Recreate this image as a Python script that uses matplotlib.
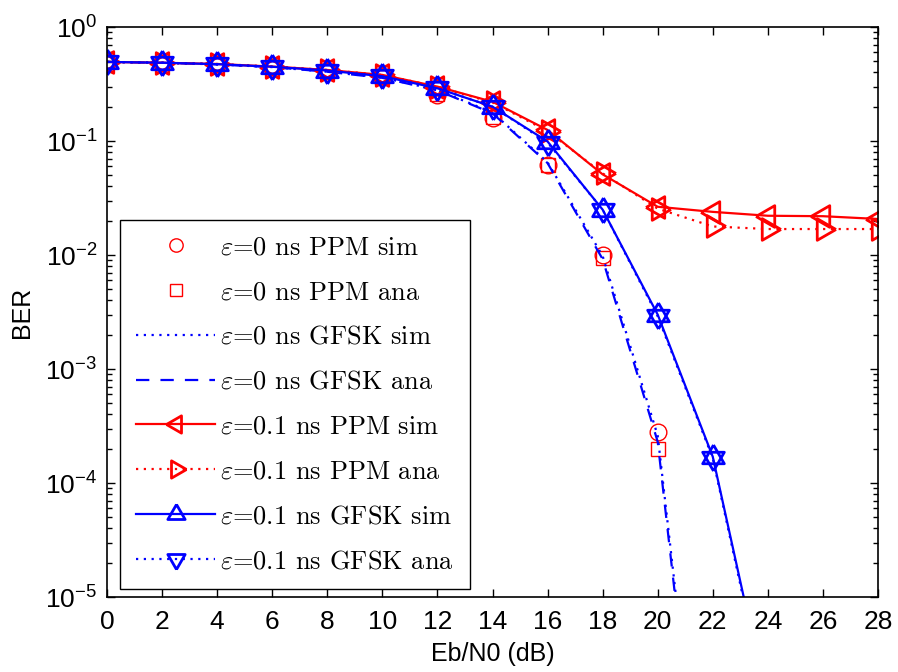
import matplotlib
matplotlib.use("Agg")
import matplotlib.pyplot as plt
from matplotlib.font_manager import FontProperties
import numpy as np

plt.rcParams['font.family'] = 'Liberation Sans'
plt.rcParams['mathtext.fontset'] = 'custom'
plt.rcParams['mathtext.rm'] = 'Liberation Sans'
plt.rcParams['mathtext.it'] = 'Liberation Sans:italic'
plt.rcParams['mathtext.bf'] = 'Liberation Sans:bold'

# Eb/N0 (dB)
snr = [0, 2, 4, 6, 8, 10, 12, 14, 16, 18, 20, 22, 24, 26, 28]

# eps = 0 ns
ppm_sim_0 = [0.494, 0.486, 0.472, 0.448, 0.41, 0.365, 0.253, 0.158, 0.0616, 0.0100, 2.8e-4]
ppm_ana_0 = [0.494, 0.486, 0.472, 0.448, 0.41, 0.362, 0.26, 0.162, 0.062, 0.0095, 2.0e-4]
gfsk_sim_0 = [0.494, 0.485, 0.47, 0.445, 0.405, 0.36, 0.28, 0.178, 0.065, 0.0098, 2.6e-4, 1.5e-8]
gfsk_ana_0 = [0.494, 0.485, 0.47, 0.445, 0.405, 0.358, 0.278, 0.175, 0.064, 0.0092, 2.3e-4, 1.2e-8]

# eps = 0.1 ns
ppm_sim_1 = [0.494, 0.486, 0.474, 0.45, 0.42, 0.38, 0.30, 0.221, 0.125, 0.051, 0.0265, 0.0239, 0.0221, 0.0219, 0.0207]
ppm_ana_1 = [0.494, 0.486, 0.474, 0.45, 0.42, 0.38, 0.30, 0.218, 0.122, 0.052, 0.0255, 0.0178, 0.0169, 0.0169, 0.0169]
gfsk_sim_1 = [0.494, 0.486, 0.472, 0.448, 0.415, 0.37, 0.29, 0.20, 0.099, 0.025, 0.0030, 1.7e-4, 1.1e-6]
gfsk_ana_1 = [0.494, 0.486, 0.472, 0.448, 0.415, 0.37, 0.29, 0.20, 0.097, 0.025, 0.0029, 1.65e-4, 1.0e-6]

labels = [r'$\varepsilon$=0 ns PPM sim', r'$\varepsilon$=0 ns PPM ana',
          r'$\varepsilon$=0 ns GFSK sim', r'$\varepsilon$=0 ns GFSK ana',
          r'$\varepsilon$=0.1 ns PPM sim', r'$\varepsilon$=0.1 ns PPM ana',
          r'$\varepsilon$=0.1 ns GFSK sim', r'$\varepsilon$=0.1 ns GFSK ana']

# triangles centred on their centroid, like MATLAB's markers
c, s = 0.866, 0.5
tri_up = [(0, 1), (-c, -s), (c, -s), (0, 1)]
tri_down = [(0, -1), (-c, s), (c, s), (0, -1)]
tri_left = [(-1, 0), (s, c), (s, -c), (-1, 0)]
tri_right = [(1, 0), (-s, c), (-s, -c), (1, 0)]

fig = plt.figure(figsize=(8.98, 6.72), dpi=100)
ax = fig.add_axes([0.1192, 0.1116, 0.8585, 0.8482])

dot = (0, (1, 2.5))
lw = 1.6
tms = 18
tmew = 2.0
ax.semilogy(snr[:len(ppm_sim_0)], ppm_sim_0, 'o', color='red', mfc='none', ms=12, mew=1.0, label=labels[0])
ax.semilogy(snr[:len(ppm_ana_0)], ppm_ana_0, 's', color='red', mfc='none', ms=10, mew=1.0, label=labels[1])
ax.semilogy(snr[:len(gfsk_sim_0)], gfsk_sim_0, color='blue', ls=dot, lw=lw, label=labels[2])
ax.semilogy(snr[:len(gfsk_ana_0)], gfsk_ana_0, color='blue', ls=(0, (6, 5)), lw=lw, label=labels[3])
ax.semilogy(snr, ppm_sim_1, color='red', marker=tri_left, mfc='none', ms=tms, mew=tmew, lw=lw, label=labels[4])
ax.semilogy(snr, ppm_ana_1, color='red', marker=tri_right, ls=dot, mfc='none', ms=tms, mew=tmew, lw=lw, label=labels[5])
ax.semilogy(snr[:len(gfsk_sim_1)], gfsk_sim_1, color='blue', marker=tri_up, mfc='none', ms=tms, mew=tmew, lw=lw, label=labels[6])
ax.semilogy(snr[:len(gfsk_ana_1)], gfsk_ana_1, color='blue', marker=tri_down, ls=dot, mfc='none', ms=tms, mew=tmew, lw=lw, label=labels[7])

ax.set_xlim(0, 28)
ax.set_ylim(1e-5, 1)
ax.set_xticks(range(0, 29, 2))
ax.tick_params(which='both', direction='in', top=True, right=True, labelsize=19, width=1)
ax.tick_params(which='major', length=6)
ax.tick_params(axis='x', which='major', pad=9)
ax.tick_params(axis='y', which='major', pad=7)
ax.tick_params(which='minor', length=3.5)
for sp in ax.spines.values():
    sp.set_linewidth(1.2)
ax.set_xlabel('Eb/N0 (dB)', fontsize=18, labelpad=6)
ax.set_ylabel('BER', fontsize=18, labelpad=8)

leg = ax.legend(loc='lower left', bbox_to_anchor=(0.017, 0.014), borderaxespad=0,
                prop=FontProperties(family='cmr10', size=19), fancybox=False,
                edgecolor='black', framealpha=1, handlelength=3.0, handletextpad=0.2,
                labelspacing=0.8, borderpad=0.6, markerscale=0.8)
leg.get_frame().set_linewidth(1.0)
for t in leg.get_texts():
    t.set_math_fontfamily('cm')

fig.savefig('out.png', dpi=100)
